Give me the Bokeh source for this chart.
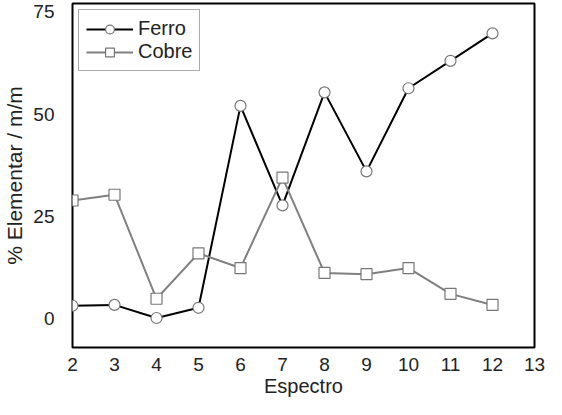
from bokeh.plotting import figure
from bokeh.embed import file_html
from bokeh.resources import INLINE
from bokeh.models import FixedTicker, Range1d

espectro = [2, 3, 4, 5, 6, 7, 8, 9, 10, 11, 12]
ferro = [3.2, 3.4, 0.2, 2.7, 52.0, 27.7, 55.3, 36.0, 56.3, 63.0, 69.7]
cobre = [28.9, 30.3, 4.9, 16.0, 12.4, 34.5, 11.2, 10.9, 12.4, 6.1, 3.4]
x_ticks = [2, 3, 4, 5, 6, 7, 8, 9, 10, 11, 12, 13]
y_ticks = [0, 25, 50, 75]

FONT = "Liberation Sans"

p = figure(width=546, height=399, output_backend="svg", toolbar_location=None,
           x_range=Range1d(2, 13), y_range=Range1d(-7, 77),
           min_border_left=62, min_border_right=12, min_border_top=3, min_border_bottom=40)
p.outline_line_color = "black"
p.outline_line_width = 2
p.grid.visible = False

for ax in (p.xaxis[0], p.yaxis[0]):
    ax.axis_line_color = None
    ax.major_tick_line_color = None
    ax.minor_tick_line_color = None
    ax.major_label_text_font = FONT
    ax.major_label_text_font_size = "19px"
    ax.major_label_text_color = "#222222"
    ax.axis_label_text_font = FONT
    ax.axis_label_text_font_size = "20px"
    ax.axis_label_text_font_style = "normal"
    ax.axis_label_text_color = "#222222"

p.yaxis.axis_label_text_font_size = "21px"
p.xaxis.ticker = FixedTicker(ticks=x_ticks)
p.yaxis.ticker = FixedTicker(ticks=y_ticks)
p.xaxis.axis_label = "Espectro"
p.yaxis.axis_label = "% Elementar / m/m"
p.xaxis.major_label_standoff = 4
p.yaxis.major_label_standoff = 12
p.xaxis.axis_label_standoff = 1
p.yaxis.axis_label_standoff = 4

p.line(espectro, ferro, line_color="black", line_width=2, legend_label="Ferro")
p.scatter(espectro, ferro, marker="circle", size=11, fill_color="white",
          line_color="#777777", line_width=1.2, legend_label="Ferro")
p.line(espectro, cobre, line_color="#808080", line_width=2, legend_label="Cobre")
p.scatter(espectro, cobre, marker="square", size=11, fill_color="white",
          line_color="#777777", line_width=1.2, legend_label="Cobre")

lg = p.legend[0]
lg.location = "top_left"
lg.margin = 6
lg.padding = 7
lg.spacing = 0
lg.label_height = 22
lg.glyph_height = 22
lg.glyph_width = 47
lg.label_standoff = 5
lg.label_text_font = FONT
lg.label_text_font_size = "20px"
lg.label_text_color = "#222222"
lg.border_line_color = "#555555"
lg.border_line_width = 1.5
lg.background_fill_alpha = 1

open("out.html", "w").write(file_html(p, INLINE))
